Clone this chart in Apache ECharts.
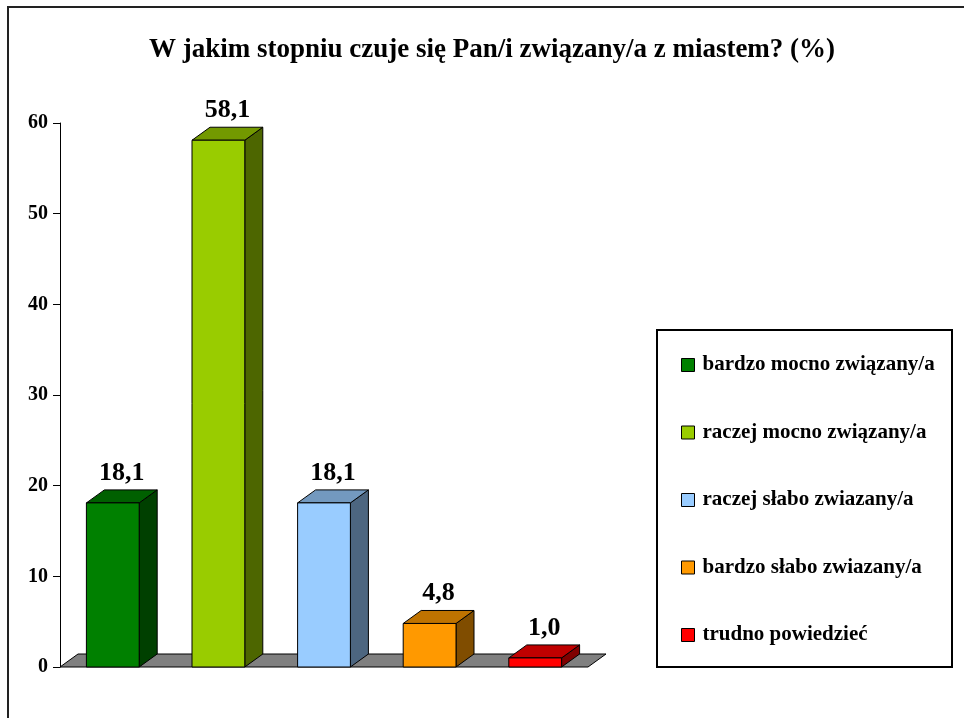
<!DOCTYPE html>
<html>
<head>
<meta charset="utf-8">
<style>
  html, body { margin: 0; padding: 0; background: #fff; }
  #chart { width: 964px; height: 718px; }
</style>
<script src="https://cdn.jsdelivr.net/npm/echarts@6/dist/echarts.min.js"></script>
</head>
<body>
<div id="chart"></div>
<script>
const titleText = 'W jakim stopniu czuje się Pan/i związany/a z miastem? (%)';
const categories = ['bardzo mocno związany/a', 'raczej mocno związany/a', 'raczej słabo zwiazany/a', 'bardzo słabo zwiazany/a', 'trudno powiedzieć'];
const values = [18.1, 58.1, 18.1, 4.8, 1.0];
const colors = ['#008000', '#99CC00', '#99CCFF', '#FF9900', '#FF0000'];
const yTicks = [0, 10, 20, 30, 40, 50, 60];

const FONT = '"Liberation Serif", "Times New Roman", serif';
const DX = 18, DY = 13;

function shade(hex, f) {
  const n = parseInt(hex.slice(1), 16);
  const r = Math.round(((n >> 16) & 255) * f);
  const g = Math.round(((n >> 8) & 255) * f);
  const b = Math.round((n & 255) * f);
  return 'rgb(' + r + ',' + g + ',' + b + ')';
}
function fmt(v) { return v.toFixed(1).replace('.', ','); }

function makeBarRenderer(color) {
  return function (params, api) {
    const cat = api.value(0), val = api.value(1);
    const base = api.coord([cat, 0]);
    const top = api.coord([cat, val]);
    const band = api.size([1, 0])[0];
    const w = band * 0.5;
    const x0 = base[0] - w / 2, x1 = base[0] + w / 2;
    const y0 = base[1], y1 = top[1];
    const stroke = { stroke: '#000', lineWidth: 1 };
    return {
      type: 'group',
      children: [
        { type: 'polygon', shape: { points: [[x1, y0], [x1 + DX, y0 - DY], [x1 + DX, y1 - DY], [x1, y1]] },
          style: Object.assign({ fill: shade(color, 0.5) }, stroke) },
        { type: 'polygon', shape: { points: [[x0, y1], [x0 + DX, y1 - DY], [x1 + DX, y1 - DY], [x1, y1]] },
          style: Object.assign({ fill: shade(color, 0.75) }, stroke) },
        { type: 'rect', shape: { x: x0, y: y1, width: w, height: y0 - y1 },
          style: Object.assign({ fill: color }, stroke) },
        { type: 'text', style: { text: fmt(val), x: (x0 + x1 + DX) / 2, y: y1 - DY - 4,
            textAlign: 'center', textVerticalAlign: 'bottom', align: 'center', verticalAlign: 'bottom',
            font: 'bold 26px ' + FONT, fill: '#000' } }
      ]
    };
  };
}

function renderFloor(params, api) {
  const cs = params.coordSys;
  const y0 = api.coord([0, 0])[1];
  return {
    type: 'polygon',
    shape: { points: [[cs.x, y0], [cs.x + DX, y0 - DY], [cs.x + cs.width + DX, y0 - DY], [cs.x + cs.width, y0]] },
    style: { fill: '#808080', stroke: '#000', lineWidth: 1 }
  };
}

const series = [{
  type: 'custom', name: 'floor', renderItem: renderFloor, data: [[0, 0]], z: 1, silent: true
}];
categories.forEach(function (name, i) {
  series.push({
    type: 'custom', name: name, z: 2,
    renderItem: makeBarRenderer(colors[i]),
    itemStyle: { color: colors[i], borderColor: '#000', borderWidth: 1 },
    encode: { x: 0, y: 1 },
    data: [[i, values[i]]]
  });
});

const chart = echarts.init(document.getElementById('chart'), null, { renderer: 'canvas' });
chart.setOption({
  animation: false,
  backgroundColor: '#fff',
  title: {
    text: titleText, left: 487, top: 32, textAlign: 'center',
    textStyle: { fontFamily: FONT, fontWeight: 'bold', fontSize: 27, color: '#000' }
  },
  graphic: [
    { type: 'rect', z: -10, shape: { x: 8, y: 7, width: 1000, height: 1000 },
      style: { fill: 'transparent', stroke: '#222', lineWidth: 2 } },
    { type: 'rect', z: -10, shape: { x: 657, y: 330, width: 295, height: 337 },
      style: { fill: 'transparent', stroke: '#000', lineWidth: 2 } }
  ],
  legend: {
    orient: 'vertical', left: 681, top: 353,
    itemWidth: 13, itemHeight: 13, itemGap: 43.5,
    padding: 0,
    textStyle: { fontFamily: FONT, fontWeight: 'bold', fontSize: 21, color: '#000', lineHeight: 24, padding: [0, 0, 0, 3] },
    data: categories.map(function (n, i) {
      return { name: n, icon: 'rect', itemStyle: { color: colors[i], borderColor: '#000', borderWidth: 1 } };
    })
  },
  grid: { left: 60, right: 376, top: 123, bottom: 51 },
  xAxis: {
    type: 'category', data: categories,
    axisLine: { show: false }, axisTick: { show: false }, axisLabel: { show: false }, splitLine: { show: false }
  },
  yAxis: {
    type: 'value', min: yTicks[0], max: yTicks[yTicks.length - 1], interval: 10,
    axisLine: { show: true, lineStyle: { color: '#000', width: 1 } },
    axisTick: { show: true, length: 7, lineStyle: { color: '#000' } },
    axisLabel: { margin: 12, fontFamily: FONT, fontWeight: 'bold', fontSize: 20, color: '#000' },
    splitLine: { show: false }
  },
  series: series
});
</script>
</body>
</html>
